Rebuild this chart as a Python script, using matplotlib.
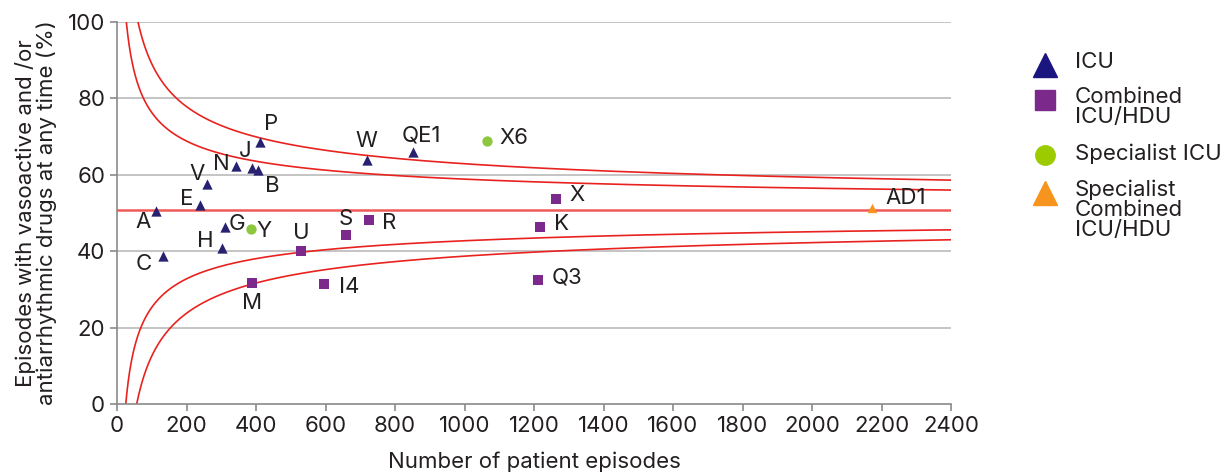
import numpy as np
import matplotlib
matplotlib.use("Agg")
import matplotlib.pyplot as plt
from matplotlib.lines import Line2D

plt.rcParams["font.family"] = ["Inter", "DejaVu Sans"]

# ── Datos ─────────────────────────────────────────────────
icu_labels = ["A", "C", "E", "V", "N", "J", "B", "P", "W", "QE1", "G", "H"]
icu_n      = [111, 131, 240, 258, 343, 388, 406, 411, 719, 851, 311, 302]
icu_pct    = [50.6, 38.8, 52.0, 57.5, 62.4, 61.8, 61.3, 68.7, 63.8, 66.0, 46.4, 40.8]

comb_labels = ["U", "S", "R", "M", "I4", "X", "K", "Q3"]
comb_n      = [530, 660, 724, 388, 595, 1264, 1217, 1211]
comb_pct    = [40.1, 44.2, 48.1, 31.6, 31.5, 53.7, 46.3, 32.5]

spec_labels = ["Y", "X6"]
spec_n      = [386, 1065]
spec_pct    = [45.7, 68.8]

spec_comb_labels = ["AD1"]
spec_comb_n      = [2173]
spec_comb_pct    = [51.3]

# desplazamiento de cada etiqueta (pixeles)
offsets = {
    "A": (-12, -11), "C": (-19, -8), "E": (-14, 6), "V": (-10, 10),
    "N": (-15, 2), "J": (-7, 17), "B": (14, -16), "P": (11, 18),
    "W": (0, 19), "QE1": (9, 16), "G": (12, 3), "H": (-17, 7),
    "U": (0, 18), "S": (-1, 16), "R": (21, -3), "M": (0, -20),
    "I4": (25, -3), "X": (21, 4), "K": (22, 3), "Q3": (29, 2),
    "Y": (13, -2), "X6": (27, 3), "AD1": (34, 10),
}

# limites del embudo: media y dispersion
media   = 50.8
k_disp  = 127.5
z_int   = 2
z_ext   = 3

C_ICU   = "#27216f"
C_COMB  = "#7b2a8c"
C_SPEC  = "#8dc63f"
C_SCOMB = "#f7941d"
C_RED   = "#e8231f"
C_GRID  = "#c4c4c4"
C_AXIS  = "#8a8a8a"
C_TXT   = "#231f20"
FS      = 16

fig = plt.figure(figsize=(12.32, 4.72), dpi=100)
ax = fig.add_axes([117 / 1232, 68 / 472, 834 / 1232, 382 / 472])

ax.set_xlim(0, 2400)
ax.set_ylim(0, 100)

for y in [20, 40, 60, 80, 100]:
    ax.axhline(y, color=C_GRID, linewidth=1.4, zorder=1)

n = np.linspace(1, 2400, 4000)
for z in [z_int, z_ext]:
    ax.plot(n, media + z * k_disp / np.sqrt(n), color=C_RED, linewidth=1.2, zorder=2)
    ax.plot(n, media - z * k_disp / np.sqrt(n), color=C_RED, linewidth=1.2, zorder=2)
ax.axhline(media, color="#ee5a57", linewidth=1.8, zorder=2)

ax.scatter(icu_n, icu_pct, marker="^", s=55, color=C_ICU, zorder=4, linewidths=0)
ax.scatter(comb_n, comb_pct, marker="s", s=50, color=C_COMB, zorder=4, linewidths=0)
ax.scatter(spec_n, spec_pct, marker="o", s=55, color=C_SPEC, zorder=4, linewidths=0)
ax.scatter(spec_comb_n, spec_comb_pct, marker="^", s=45, color=C_SCOMB, zorder=4, linewidths=0)

for labels, xs, ys in [(icu_labels, icu_n, icu_pct), (comb_labels, comb_n, comb_pct),
                       (spec_labels, spec_n, spec_pct),
                       (spec_comb_labels, spec_comb_n, spec_comb_pct)]:
    for lab, x, y in zip(labels, xs, ys):
        dx, dy = offsets[lab]
        ax.annotate(lab, (x, y), xytext=(dx, dy), textcoords="offset pixels",
                    ha="center", va="center", fontsize=FS, color=C_TXT, zorder=5)

for s in ["top", "right"]:
    ax.spines[s].set_visible(False)
for s in ["left", "bottom"]:
    ax.spines[s].set_color(C_AXIS)
    ax.spines[s].set_linewidth(1.2)

ax.set_xticks(range(0, 2401, 200))
ax.set_yticks(range(0, 101, 20))
ax.tick_params(colors=C_AXIS, length=5, width=1.2, labelsize=FS, labelcolor=C_TXT)
ax.set_xlabel("Number of patient episodes", fontsize=FS, color=C_TXT, labelpad=11)
ax.set_ylabel("Episodes with vasoactive and /or\nantiarrhythmic drugs at any time (%)",
              fontsize=FS, color=C_TXT, labelpad=8, linespacing=1.0)

# ── Leyenda manual ────────────────────────────────────────
ley_marcas = [("^", "#1b1580", 17), ("s", C_COMB, 14), ("o", "#9ccc00", 14), ("^", C_SCOMB, 17)]
ley_textos = ["ICU", "Combined\nICU/HDU", "Specialist ICU", "Specialist\nCombined\nICU/HDU"]
ley_y      = [65, 100, 155, 193]
ley_txt_y  = [52, 87, 143, 180]
for (m, c, ms), txt, y, yt in zip(ley_marcas, ley_textos, ley_y, ley_txt_y):
    fig.add_artist(Line2D([1045 / 1232], [1 - y / 472], marker=m, color=c, markersize=ms,
                          linestyle="", transform=fig.transFigure))
    fig.text(1075 / 1232, 1 - yt / 472, txt, fontsize=FS, color=C_TXT,
             va="top", ha="left", linespacing=1.0)

fig.savefig("out.png", dpi=100, facecolor="white")
